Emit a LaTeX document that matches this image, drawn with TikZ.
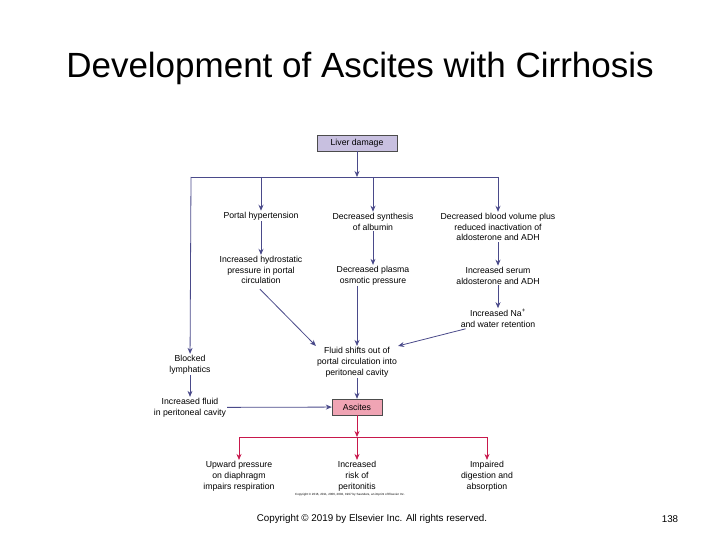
\documentclass[tikz,border=0pt]{standalone}
\usepackage{fontspec}
\setmainfont{Liberation Sans}
\usetikzlibrary{arrows.meta, positioning}
\definecolor{flowblue}{HTML}{4A4A8A}
\definecolor{flowred}{HTML}{C8184C}
\definecolor{liverfill}{HTML}{C8C0E0}
\definecolor{ascfill}{HTML}{F0A4B4}

\begin{document}
\begin{tikzpicture}[
        x=1pt, y=-1pt,
        txt/.style={align=center, font=\fontsize{8.7}{10.8}\selectfont, inner sep=1pt},
        box/.style={rectangle, draw=black!70, font=\fontsize{8.7}{10}\selectfont, minimum height=16pt},
        arrow/.style={-{Stealth[length=6pt,width=5pt]}, flowblue, thick},
        redarrow/.style={-{Stealth[length=6pt,width=5pt]}, flowred, thick}
    ]
    \useasboundingbox (0,0) rectangle (720,540);
    \node[font=\fontsize{35}{40}\selectfont] (title) at (360,68) {Development of Ascites with Cirrhosis};
    \node[box, fill=liverfill, minimum width=80pt] (liver) at (357,143) {Liver damage};
    \coordinate (split) at (357,177);
    \coordinate (lefttop) at (191,177);
    \coordinate (righttop) at (498,177);
    \coordinate (midtop) at (373,177);
    \coordinate (porttop) at (261,177);
    \node[txt] (portal) at (261,216) {Portal hypertension};
    \node[txt] (albumin) at (373,221.5) {Decreased synthesis\\of albumin};
    \node[txt] (blood) at (498,227) {Decreased blood volume plus\\reduced inactivation of\\aldosterone and ADH};
    \node[txt] (hydro) at (261,270) {Increased hydrostatic\\pressure in portal\\circulation};
    \node[txt] (plasma) at (373,275.5) {Decreased plasma\\osmotic pressure};
    \node[txt] (serum) at (498,275.5) {Increased serum\\aldosterone and ADH};
    \node[txt] (sodium) at (498,318.5) {Increased Na\textsuperscript{+}\\and water retention};
    \node[txt] (fluid) at (357,362) {Fluid shifts out of\\portal circulation into\\peritoneal cavity};
    \node[txt] (lymph) at (190,364.5) {Blocked\\lymphatics};
    \node[txt] (cavity) at (190,407.5) {Increased fluid\\in peritoneal cavity};
    \node[box, fill=ascfill, minimum width=50pt] (ascites) at (357,407) {Ascites};
    \coordinate (redsplit) at (357,437);
    \coordinate (redleft) at (239,437);
    \coordinate (redright) at (487,437);
    \node[txt] (upward) at (239,476) {Upward pressure\\on diaphragm\\impairs respiration};
    \node[txt] (risk) at (357,476) {Increased\\risk of\\peritonitis};
    \node[txt] (digest) at (487,476) {Impaired\\digestion and\\absorption};
    \node[font=\fontsize{3}{4}\selectfont] (smallcopy) at (350,495) {Copyright \copyright{} 2016, 2011, 2006, 2002, 1997 by Saunders, an imprint of Elsevier Inc.};
    \node[font=\fontsize{9.8}{12}\selectfont] (footer) at (372,519) {Copyright © 2019 by Elsevier Inc. All rights reserved.};
    \node[font=\fontsize{9.8}{12}\selectfont] (page) at (670,519) {138};
    % top branches
    \draw[arrow] (liver) -- (split);
    \draw[flowblue, thick] (lefttop) -- (righttop);
    \draw[arrow] (porttop) -- (portal);
    \draw[arrow] (midtop) -- (albumin);
    \draw[arrow] (righttop) -- (blood);
    \draw[arrow] (lefttop) -- (lymph);
    \draw[arrow] (portal) -- (hydro);
    \draw[arrow] (albumin) -- (plasma);
    \draw[arrow] (blood) -- (serum);
    \draw[arrow] (serum) -- (sodium);
    \draw[arrow] (hydro.south) ++(-1,4) -- (fluid.north west);
    \draw[arrow] (plasma.south -| fluid.north) -- (fluid.north);
    \draw[arrow] (sodium.south west) ++(6,0) -- (fluid.north east);
    \draw[arrow] (lymph) -- (cavity);
    \draw[arrow] (fluid) -- (ascites);
    \draw[arrow] (cavity) -- (ascites);
    % consequences
    \draw[redarrow] (ascites) -- (redsplit);
    \draw[flowred, thick] (redleft) -- (redright);
    \draw[redarrow] (redleft) -- (upward);
    \draw[redarrow] (redsplit) -- (risk);
    \draw[redarrow] (redright) -- (digest);
\end{tikzpicture}
\end{document}
